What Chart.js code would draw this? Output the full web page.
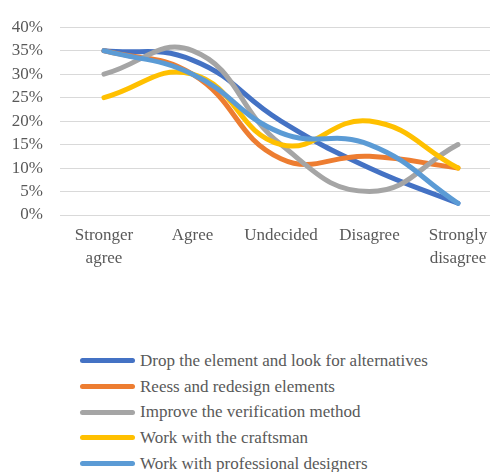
<!DOCTYPE html>
<html>
<head>
<meta charset="utf-8">
<script src="https://cdn.jsdelivr.net/npm/chart.js@4/dist/chart.umd.min.js"></script>
<style>
  html, body { margin: 0; padding: 0; background: #ffffff; }
  #wrap { position: relative; width: 492px; height: 472px; }
  #c { position: absolute; left: 0; top: 0; }
  #legend { position: absolute; left: 80px; top: 348px; font-family: "Liberation Serif", "Times New Roman", serif; font-size: 17px; color: #595959; }
  .item { height: 25.7px; display: flex; align-items: center; white-space: nowrap; }
  .swatch { width: 55px; height: 5px; border-radius: 3px; margin-right: 5px; }
</style>
</head>
<body>
<div id="wrap">
  <canvas id="c" width="492" height="275"></canvas>
  <div id="legend"></div>
</div>
<script>
const categories = [["Stronger", "agree"], "Agree", "Undecided", "Disagree", ["Strongly", "disagree"]];
const seriesNames = [
  "Drop the element and look for alternatives",
  "Reess and redesign elements",
  "Improve the verification method",
  "Work with the craftsman",
  "Work with professional designers"
];
const dropElement   = [0.35, 0.33, 0.20, 0.10, 0.025];
const reessRedesign = [0.35, 0.30, 0.12, 0.125, 0.10];
const improveVerify = [0.30, 0.35, 0.15, 0.05, 0.15];
const craftsman     = [0.25, 0.30, 0.15, 0.20, 0.10];
const proDesigners  = [0.35, 0.30, 0.175, 0.15, 0.025];
const yTicks = [0, 0.05, 0.10, 0.15, 0.20, 0.25, 0.30, 0.35, 0.40];
const colors = ["#4472C4", "#ED7D31", "#A5A5A5", "#FFC000", "#5B9BD5"];

const allSeries = [dropElement, reessRedesign, improveVerify, craftsman, proDesigners];
const FONT = "'Liberation Serif', 'Times New Roman', serif";

const datasets = allSeries.map((vals, i) => ({
  label: seriesNames[i],
  data: vals.map((v, k) => ({ x: k, y: v })),
  borderColor: colors[i],
  backgroundColor: colors[i],
  borderWidth: 5,
  borderCapStyle: 'round',
  borderJoinStyle: 'round',
  pointRadius: 0,
  tension: 0.45,
  fill: false,
  order: allSeries.length - i
}));

new Chart(document.getElementById('c'), {
  type: 'line',
  data: { datasets },
  options: {
    responsive: false,
    animation: false,
    layout: { padding: { top: 16, right: 2, bottom: 0, left: 0 } },
    plugins: { legend: { display: false }, tooltip: { enabled: false } },
    scales: {
      x: {
        type: 'linear',
        min: -0.497,
        max: 4.362,
        bounds: 'data',
        afterFit: (s) => { s.height = 60; },
        afterBuildTicks: (s) => { s.ticks = categories.map((c, k) => ({ value: k })); },
        grid: { display: false },
        border: { display: false },
        ticks: {
          autoSkip: false,
          maxRotation: 0,
          padding: 1,
          color: '#595959',
          font: { family: FONT, size: 17, lineHeight: 1.35 },
          callback: (v) => categories[v]
        }
      },
      y: {
        min: 0,
        max: 0.4,
        afterFit: (s) => { s.width = 60; },
        afterBuildTicks: (s) => { s.ticks = yTicks.map(v => ({ value: v })); },
        grid: { color: '#D9D9D9', lineWidth: 1, drawTicks: false },
        border: { display: false },
        ticks: {
          padding: 17,
          color: '#595959',
          font: { family: FONT, size: 17 },
          callback: (v) => Math.round(v * 100) + '%'
        }
      }
    }
  }
});

const legend = document.getElementById('legend');
seriesNames.forEach((name, i) => {
  const row = document.createElement('div');
  row.className = 'item';
  const sw = document.createElement('span');
  sw.className = 'swatch';
  sw.style.background = colors[i];
  const tx = document.createElement('span');
  tx.textContent = name;
  row.appendChild(sw);
  row.appendChild(tx);
  legend.appendChild(row);
});
</script>
</body>
</html>
